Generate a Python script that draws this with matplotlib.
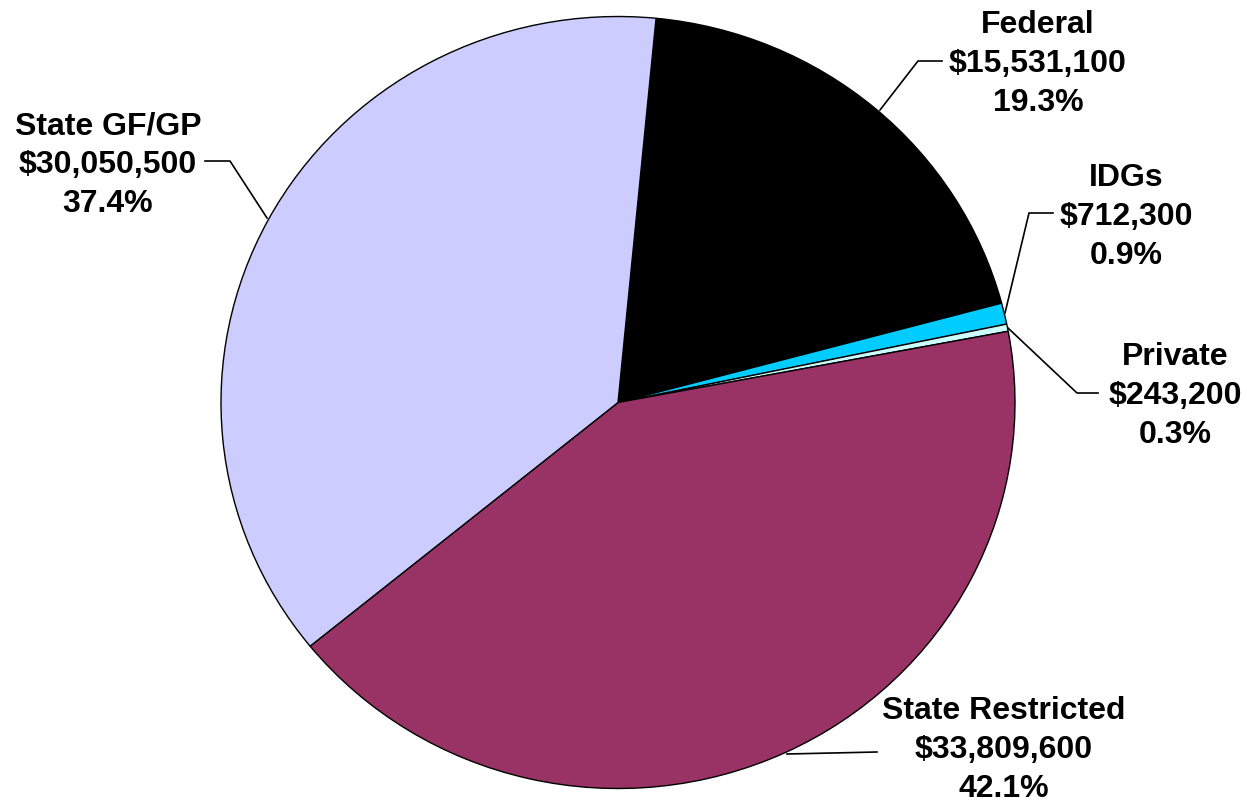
import matplotlib.pyplot as plt

plt.rcParams['font.family'] = ['Liberation Sans', 'DejaVu Sans']

labels = ["Federal", "IDGs", "Private", "State Restricted", "State GF/GP"]
values = [15531100, 712300, 243200, 33809600, 30050500]
colors = ["#000000", "#00CCFF", "#CCFFFF", "#993366", "#CCCCFF"]

total = sum(values)
pcts = [v / total * 100 for v in values]

W, H = 1247, 807
CX, CY, RX, RY = 618, 402.5, 397, 386  # pie centre and radii in pixels (slightly oval)

fig = plt.figure(figsize=(W / 100, H / 100), dpi=100)
ax = fig.add_axes([0, 0, 1, 1])


# pixel (from top-left) -> data units of the unit pie
def tx(x):
    return (x - CX) / RX


def ty(y):
    return (CY - y) / RY


ax.pie(values, colors=colors, center=(0, 0), radius=1,
       startangle=84.5, counterclock=False,
       wedgeprops=dict(edgecolor="black", linewidth=1))

# label block centres and leader lines (pixel positions)
label_pos = [(1038, 64), (1126, 217), (1175, 396), (1004, 750), (108, 165)]
leaders = [
    [(880, 110), (918, 61), (942, 61)],
    [(1005, 313), (1029, 213), (1053, 213)],
    [(1008, 328), (1077, 393), (1098, 393)],
    [(787, 754), (877, 752)],
    [(267, 218), (230, 161), (205, 161)],
]

for lab, v, p, (x, y), pts in zip(labels, values, pcts, label_pos, leaders):
    txt = "{}\n${:,}\n{:.1f}%".format(lab, v, p)
    ax.text(tx(x), ty(y), txt, ha="center", va="center", fontsize=23,
            fontweight="bold", linespacing=1.37)
    ax.plot([tx(a) for a, b in pts], [ty(b) for a, b in pts], color="black",
            linewidth=1.2)

ax.set_aspect("auto")
ax.set_xlim(tx(0), tx(W))
ax.set_ylim(ty(H), ty(0))
ax.axis("off")

fig.savefig("out.png", dpi=100)
